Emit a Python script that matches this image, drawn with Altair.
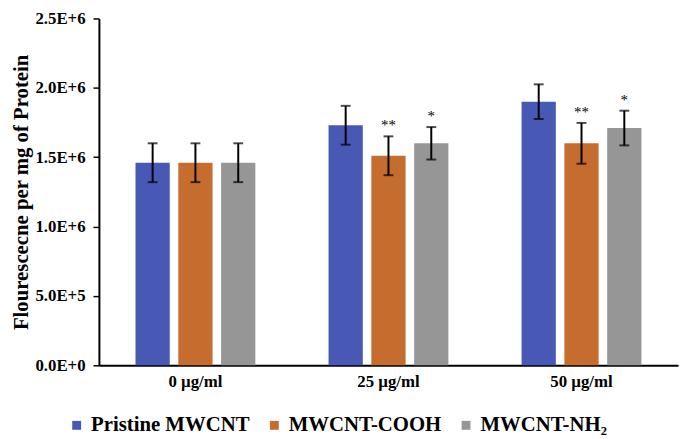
import altair as alt
import pandas as pd

groups = ["0 µg/ml", "25 µg/ml", "50 µg/ml"]
series = ["Pristine MWCNT", "MWCNT-COOH", "MWCNT-NH₂"]
colors = ["#4858B5", "#C56C2F", "#969696"]

pristine = [1.46e6, 1.73e6, 1.90e6]
cooh = [1.46e6, 1.51e6, 1.60e6]
nh2 = [1.46e6, 1.60e6, 1.71e6]

pristine_err = [1.4e5, 1.4e5, 1.25e5]
cooh_err = [1.4e5, 1.4e5, 1.47e5]
nh2_err = [1.4e5, 1.17e5, 1.25e5]

pristine_sig = ["", "", ""]
cooh_sig = ["", "**", "**"]
nh2_sig = ["", "*", "*"]

y_ticks = [0, 5e5, 1e6, 1.5e6, 2e6, 2.5e6]

rows = []
for s, vals, errs, sigs in [
    (series[0], pristine, pristine_err, pristine_sig),
    (series[1], cooh, cooh_err, cooh_sig),
    (series[2], nh2, nh2_err, nh2_sig),
]:
    for g, v, e, sg in zip(groups, vals, errs, sigs):
        rows.append({"group": g, "series": s, "value": v,
                     "lo": v - e, "hi": v + e, "sig": sg})
df = pd.DataFrame(rows)

FONT = "Liberation Serif"

x_enc = alt.X("group:N", sort=groups,
              scale=alt.Scale(paddingInner=0, paddingOuter=0),
              axis=alt.Axis(title=None, labelAngle=0, ticks=False,
                            labelFont=FONT, labelFontSize=17, labelFontWeight="bold",
                            labelColor="black", labelPadding=8,
                            domainColor="black", domainWidth=2))
xoff = alt.XOffset("series:N", sort=series,
                   scale=alt.Scale(paddingInner=0.2, paddingOuter=0.855))

base = alt.Chart(df)

bars = base.mark_bar().encode(
    x=x_enc,
    xOffset=xoff,
    y=alt.Y("value:Q",
            scale=alt.Scale(domain=[0, 2.5e6], nice=False),
            axis=alt.Axis(values=y_ticks, grid=False,
                          labelExpr="upper(format(datum.value, '.1e'))",
                          labelFont=FONT, labelFontSize=17, labelFontWeight="bold",
                          labelColor="black", labelPadding=8,
                          tickSize=6, tickColor="black", tickWidth=1.5,
                          domainColor="black", domainWidth=2,
                          title="Flourescecne per mg of Protein",
                          titleFont=FONT, titleFontSize=21, titleFontWeight="bold",
                          titleColor="black", titlePadding=3)),
    color=alt.Color("series:N", sort=series,
                    scale=alt.Scale(domain=series, range=colors),
                    legend=alt.Legend(title=None, orient="none", direction="horizontal",
                                      legendX=-33, legendY=401,
                                      symbolType="square", symbolSize=81,
                                      symbolStrokeWidth=0, labelLimit=0,
                                      labelFont=FONT, labelFontSize=21,
                                      labelFontWeight="bold", labelColor="black",
                                      labelOffset=4, columnPadding=14)),
)

rules = base.mark_rule(color="black", strokeWidth=2).encode(
    x=alt.X("group:N", sort=groups),
    xOffset=xoff,
    y="lo:Q",
    y2="hi:Q",
)

caps_hi = base.mark_tick(color="black", thickness=2, size=10, orient="horizontal").encode(
    x=alt.X("group:N", sort=groups), xOffset=xoff, y="hi:Q")
caps_lo = base.mark_tick(color="black", thickness=2, size=10, orient="horizontal").encode(
    x=alt.X("group:N", sort=groups), xOffset=xoff, y="lo:Q")

stars = base.mark_text(font=FONT, fontSize=15, color="black", dy=-6,
                       baseline="alphabetic").encode(
    x=alt.X("group:N", sort=groups), xOffset=xoff, y="hi:Q", text="sig:N")

chart = alt.layer(bars, rules, caps_hi, caps_lo, stars).properties(
    width=586, height=351,
    autosize=alt.AutoSizeParams(type="none"),
    padding={"left": 92, "top": 8, "right": 2, "bottom": 70},
).configure_view(stroke=None)

chart.save("out.html", embed_options={"renderer": "svg", "actions": False})
